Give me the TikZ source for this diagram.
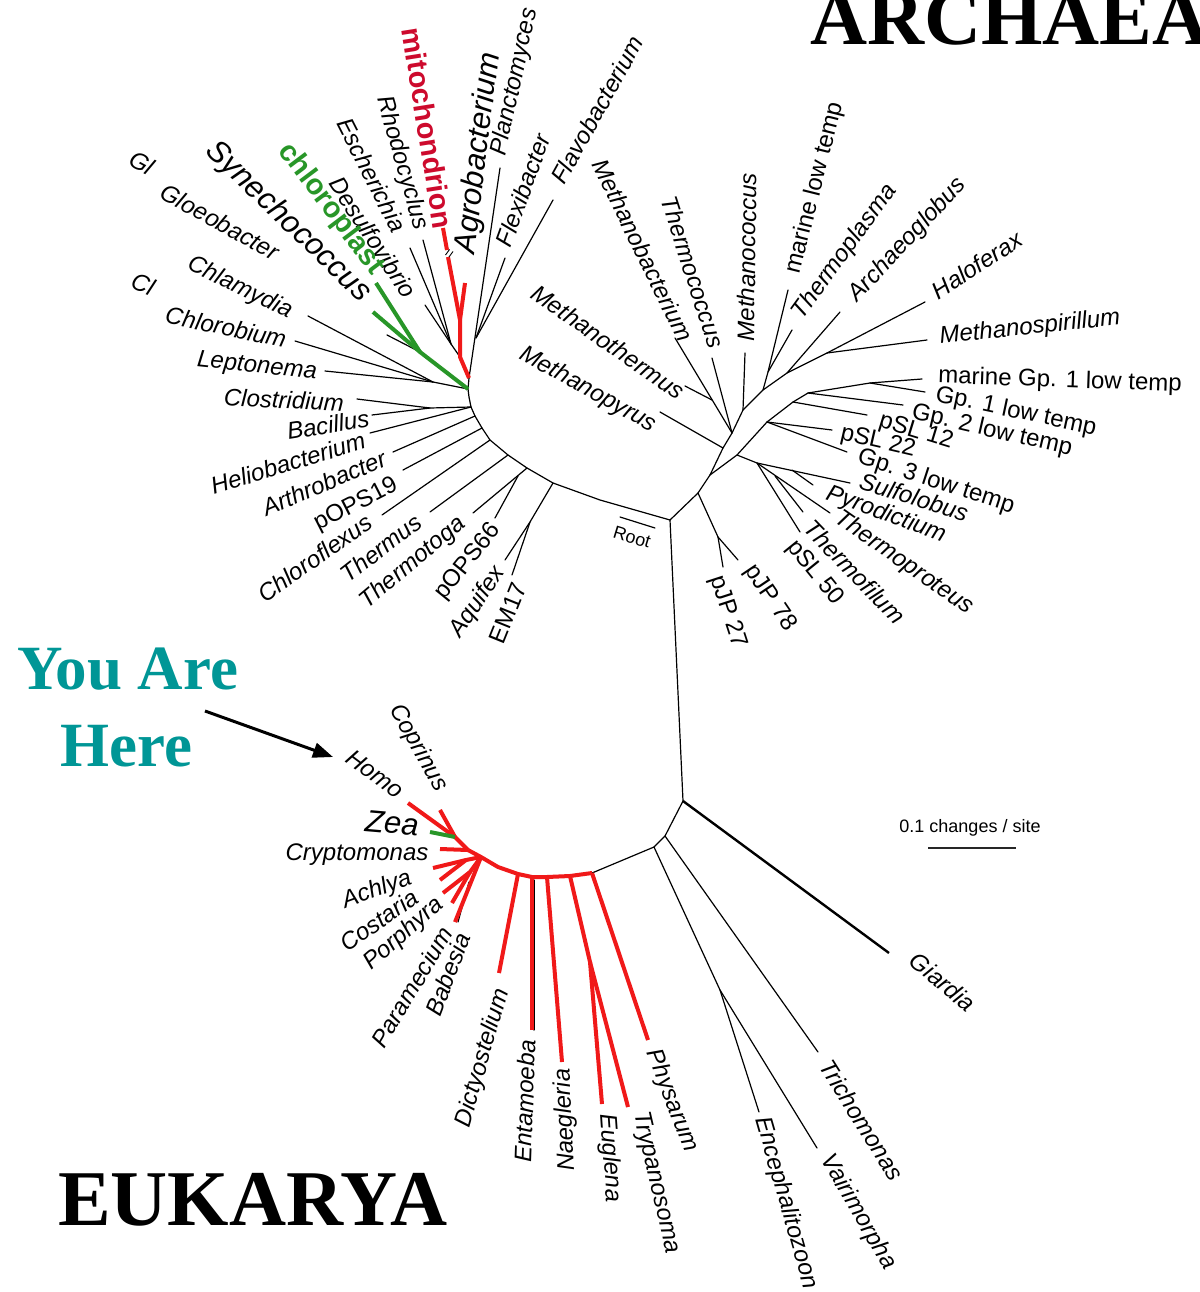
\documentclass[tikz,border=0pt]{standalone}
\usepackage{fontspec}
\newfontfamily\lsans{Liberation Sans}
\newfontfamily\lserif{Liberation Serif}
\usetikzlibrary{arrows.meta}
\definecolor{redl}{RGB}{240,25,25}
\definecolor{mito}{RGB}{205,10,45}
\definecolor{grn}{RGB}{40,150,40}
\definecolor{tealc}{RGB}{0,150,150}
\tikzset{
 br/.style={line width=1.2pt, line cap=round, line join=round},
 rbr/.style={line width=4pt, redl, line join=round},
 gbr/.style={line width=4pt, grn, line join=round},
 lab/.style={font=\lsans\itshape\fontsize{24}{24}\selectfont, inner sep=0pt},
 labu/.style={font=\lsans\fontsize{24}{24}\selectfont, inner sep=0pt},
 labbig/.style={font=\lsans\itshape\fontsize{31}{31}\selectfont, inner sep=0pt},
 labbold/.style={font=\lsans\bfseries\fontsize{29}{29}\selectfont, inner sep=0pt},
 title/.style={font=\lserif\bfseries\fontsize{79}{79}\selectfont, inner sep=0pt, anchor=base west},
 here/.style={font=\lserif\bfseries\fontsize{63}{63}\selectfont, inner sep=0pt, anchor=base west, text=tealc},
}
\begin{document}
\begin{tikzpicture}[x=1pt,y=-1pt]
\useasboundingbox (0,0) rectangle (1199,1292);
\fill[white] (0,0) rectangle (1199,1292);
% ---------- core coordinates
\coordinate (R) at (670,520);
\coordinate (EU) at (683,801);
% bacteria arc
\coordinate (BA0) at (600,500);
\coordinate (B1) at (553,483);
\coordinate (B2) at (527,468);
\coordinate (B3) at (508,455);
\coordinate (B4) at (490,440);
\coordinate (B5) at (482,428);
\coordinate (B6) at (475,416);
\coordinate (B7) at (471,407);
\coordinate (B8) at (469,397);
\coordinate (B9) at (468,389);
\coordinate (B10) at (469,378);
% bacteria tips/nodes
\coordinate (nEA) at (530,522);
\coordinate (tEM) at (512,575);
\coordinate (tAq) at (505,560);
\coordinate (nB2a) at (518,476);
\coordinate (tTg) at (473,513);
\coordinate (tP66) at (495,518);
\coordinate (tTh) at (430,512);
\coordinate (tCf) at (382,515);
\coordinate (tP19) at (403,470);
\coordinate (tAr) at (393,452);
\coordinate (tHe) at (370,433);
\coordinate (nBB) at (430,408);
\coordinate (tCl) at (357,399);
\coordinate (tBa) at (372,415);
\coordinate (nBC) at (433,382);
\coordinate (tCh) at (308,316);
\coordinate (tCb) at (295,341);
\coordinate (tLe) at (325,371);
\coordinate (G1) at (420,352);
\coordinate (tSy) at (373,312);
\coordinate (tCp) at (376,283);
\coordinate (tGl) at (387,335);
\coordinate (M1) at (460,357);
\coordinate (M2) at (460,320);
\coordinate (tAg) at (465,283);
\coordinate (mB1) at (448,257);
\coordinate (mB2) at (447,250);
\coordinate (tMi) at (443,228);
\coordinate (nED) at (451,344);
\coordinate (tEs) at (410,248);
\coordinate (tRh) at (423,240);
\coordinate (tDe) at (425,305);
\coordinate (tPl) at (500,168);
\coordinate (nBF) at (476,338);
\coordinate (tFx) at (505,258);
\coordinate (tFl) at (553,200);
% archaea
\coordinate (A0) at (698,493);
\coordinate (PJ) at (718,537);
\coordinate (tJ78) at (738,560);
\coordinate (tJ27) at (723,567);
\coordinate (A1) at (710,475);
\coordinate (U1) at (723,448);
\coordinate (tMp) at (660,412);
\coordinate (U2) at (732,433);
\coordinate (tMb) at (675,338);
\coordinate (MT) at (712,400);
\coordinate (tMth) at (685,386);
\coordinate (tTc) at (712,358);
\coordinate (U3) at (743,410);
\coordinate (tMc) at (745,353);
\coordinate (U4) at (763,390);
\coordinate (TM) at (768,372);
\coordinate (tMl) at (788,290);
\coordinate (tTp) at (792,330);
\coordinate (U5) at (787,373);
\coordinate (tAr2) at (840,312);
\coordinate (U6) at (827,353);
\coordinate (tMs) at (927,340);
\coordinate (tHa) at (925,302);
\coordinate (L1) at (737,455);
\coordinate (Cr2) at (757,463);
\coordinate (SP) at (792,470);
\coordinate (tSu) at (850,483);
\coordinate (tPy) at (813,485);
\coordinate (TF) at (775,476);
\coordinate (tTpr) at (830,513);
\coordinate (tTf) at (803,512);
\coordinate (tS50) at (800,532);
\coordinate (L2) at (767,422);
\coordinate (tS22) at (832,430);
\coordinate (tG3) at (847,452);
\coordinate (L3) at (793,402);
\coordinate (tS12) at (867,415);
\coordinate (L4) at (808,393);
\coordinate (tG2) at (903,405);
\coordinate (L5) at (870,383);
\coordinate (tMG1) at (922,379);
\coordinate (tG1) at (925,392);
% eukarya
\coordinate (tGi) at (889,953);
\coordinate (E1) at (665,836);
\coordinate (tTr) at (818,1052);
\coordinate (E2) at (654,847);
\coordinate (EV) at (720,990);
\coordinate (tEn) at (759,1112);
\coordinate (tVa) at (817,1148);
\coordinate (E3) at (592,873);
\coordinate (tPh) at (648,1040);
\coordinate (E4) at (570,876);
\coordinate (EG) at (590,962);
\coordinate (tEu) at (602,1104);
\coordinate (tTy) at (628,1107);
\coordinate (E5) at (547,877);
\coordinate (tNa) at (562,1062);
\coordinate (E6) at (532,877);
\coordinate (tEt) at (532,1030);
\coordinate (E7) at (518,874);
\coordinate (tDi) at (499,973);
\coordinate (E7b) at (498,867);
\coordinate (E8) at (481,857);
\coordinate (EA) at (466,860);
\coordinate (tAc) at (433,868);
\coordinate (tCo) at (440,880);
\coordinate (EP) at (470,872);
\coordinate (tPo) at (443,893);
\coordinate (tPa) at (452,903);
\coordinate (tBb) at (455,922);
\coordinate (E9) at (468,850);
\coordinate (EH) at (455,837);
\coordinate (tHo) at (408,803);
\coordinate (tCop) at (440,810);
\coordinate (tZe) at (430,832);
\coordinate (tCr) at (440,849);
% ---------- branches: stem and bacteria
\draw[br] (R) -- (EU);
\draw[br] (R) -- (BA0) -- (B1) -- (B2) -- (B3) -- (B4) -- (B5) -- (B6) -- (B7) -- (B8) -- (B9) -- (B10);
\draw[br] (B1) -- (nEA) -- (tAq);
\draw[br] (nEA) -- (tEM);
\draw[br] (B2) -- (tTg);
\draw[br] (nB2a) -- (tP66);
\draw[br] (B3) -- (tTh);
\draw[br] (B4) -- (tCf);
\draw[br] (B5) -- (tP19);
\draw[br] (B6) -- (tAr);
\draw[br] (B7) -- (tHe);
\draw[br] (B7) -- (nBB) -- (tCl);
\draw[br] (nBB) -- (tBa);
\draw[br] (B9) -- (nBC) -- (tCh);
\draw[br] (nBC) -- (tCb);
\draw[br] (nBC) -- (tLe);
\draw[br] (tGl) -- (G1);
\draw[br] (B10) -- (tPl);
\draw[br] (nBF) -- (tFx);
\draw[br] (nBF) -- (tFl);
\draw[br] (M1) -- (nED) -- (tEs);
\draw[br] (nED) -- (tRh);
\draw[br] (nED) -- (tDe);
\draw[gbr] (B9) -- (G1) -- (tSy);
\draw[gbr] (G1) -- (tCp);
\draw[rbr] (B10) -- (M1) -- (M2) -- (mB1);
\draw[rbr] (mB2) -- (tMi);
\draw[rbr] (M2) -- (tAg);
\draw[line width=0.9pt] (445.5,255) -- (449.5,249.5) (449,257) -- (453,251.5);
% root marker
\coordinate (rm1) at (620,517);
\coordinate (rm2) at (655,528);
\draw[br] (rm1) -- (rm2);
% ---------- archaea
\draw[br] (R) -- (A0) -- (A1);
\draw[br] (A0) -- (PJ) -- (tJ78);
\draw[br] (PJ) -- (tJ27);
\draw[br] (A1) -- (U1) -- (U2) -- (U3) -- (U4) -- (U5) -- (U6) -- (tHa);
\draw[br] (U1) -- (tMp);
\draw[br] (U2) -- (tMb);
\draw[br] (MT) -- (tMth);
\draw[br] (U2) -- (tTc);
\draw[br] (U3) -- (tMc);
\draw[br] (U4) -- (TM) -- (tMl);
\draw[br] (TM) -- (tTp);
\draw[br] (U5) -- (tAr2);
\draw[br] (U6) -- (tMs);
\draw[br] (A1) -- (L1) -- (L2) -- (L3) -- (L4) -- (L5) -- (tMG1);
\draw[br] (L5) -- (tG1);
\draw[br] (L4) -- (tG2);
\draw[br] (L3) -- (tS12);
\draw[br] (L2) -- (tS22);
\draw[br] (L2) -- (tG3);
\draw[br] (L1) -- (Cr2) -- (tSu);
\draw[br] (SP) -- (tPy);
\draw[br] (Cr2) -- (tTpr);
\draw[br] (TF) -- (tTf);
\draw[br] (Cr2) -- (tS50);
% ---------- eukarya
\draw[line width=2.4pt] (EU) -- (tGi);
\draw[br] (EU) -- (E1) -- (E2) -- (E3);
\draw[br] (E1) -- (tTr);
\draw[br] (E2) -- (EV) -- (tEn);
\draw[br] (EV) -- (tVa);
\draw[br] (534,880) -- (534,1030);
\draw[br] (458,922) -- (469,882);
\draw[rbr] (E3) -- (E4) -- (E5) -- (E6) -- (E7) -- (E7b) -- (E8) -- (E9);
\draw[rbr] (E3) -- (tPh);
\draw[rbr] (E4) -- (EG) -- (tTy);
\draw[rbr] (EG) -- (tEu);
\draw[rbr] (E5) -- (tNa);
\draw[rbr] (E6) -- (tEt);
\draw[rbr] (E7) -- (tDi);
\draw[rbr] (E8) -- (EA) -- (tAc);
\draw[rbr] (EA) -- (tCo);
\draw[rbr] (E8) -- (EP) -- (tPo);
\draw[rbr] (EP) -- (tPa);
\draw[rbr] (E8) -- (tBb);
\draw[rbr] (E9) -- (EH) -- (tHo);
\draw[rbr] (EH) -- (tCop);
\draw[rbr] (E9) -- (tCr);
\draw[gbr] (tZe) -- (EH);
% ---------- bacteria labels
\node[lab, rotate=78] (Lpl) at (515,82) {Planctomyces};
\node[lab, rotate=70] (Lfx) at (523,190) {Flexibacter};
\node[lab, rotate=61] (Lfl) at (597,110) {Flavobacterium};
\node[labbig, rotate=83] (Lag) at (479,153) {Agrobacterium};
\node[labbold, rotate=-81, text=mito] (Lmi) at (428,128) {mitochondrion};
\node[lab, rotate=-74] (Lrh) at (402,163) {Rhodocyclus};
\node[lab, rotate=-63] (Les) at (372,175) {Escherichia};
\node[lab, rotate=-57] (Lde) at (373,237) {Desulfovibrio};
\node[labbold, rotate=-53, text=grn] (Lcp) at (331,209) {chloroplast};
\node[labbig, rotate=-44] (Lsy) at (288,222) {Synechococcus};
\node[lab, rotate=-29] (Lgl) at (220,222) {Gloeobacter};
\node[lab, rotate=-29] (Lgl2) at (142,163) {Gl};
\node[lab, rotate=-26] (Lch) at (240,288) {Chlamydia};
\node[lab, rotate=-22] (Lch2) at (143,284) {Cl};
\node[lab, rotate=-12] (Lcb) at (226,327) {Chlorobium};
\node[lab, rotate=-6] (Lle) at (257,367) {Leptonema};
\node[lab, rotate=-3] (Lcl) at (284,400) {Clostridium};
\node[lab, rotate=9] (Lba) at (328,425) {Bacillus};
\node[lab, rotate=17] (Lhe) at (288,463) {Heliobacterium};
\node[lab, rotate=23] (Lar) at (324,483) {Arthrobacter};
\node[labu, rotate=27] (Lp19) at (356,505) {pOPS19};
\node[lab, rotate=35] (Lcf) at (315,558) {Chloroflexus};
\node[lab, rotate=38] (Lth) at (381,548) {Thermus};
\node[lab, rotate=40] (Ltg) at (413,563) {Thermotoga};
\node[labu, rotate=51] (Lp66) at (468,562) {pOPS66};
\node[lab, rotate=56] (Laq) at (478,602) {Aquifex};
\node[labu, rotate=68] (Lem) at (508,613) {EM17};
% ---------- archaea labels
\node[lab, rotate=-35] (Lmth) at (608,342) {Methanothermus};
\node[lab, rotate=-29] (Lmp) at (588,390) {Methanopyrus};
\node[lab, rotate=-64] (Lmb) at (643,250) {Methanobacterium};
\node[lab, rotate=-72] (Ltc) at (693,272) {Thermococcus};
\node[lab, rotate=89] (Lmc) at (747,257) {Methanococcus};
\node[labu, rotate=76] (Lml) at (815,188) {marine low temp};
\node[lab, rotate=54] (Ltp) at (845,252) {Thermoplasma};
\node[lab, rotate=47] (Lao) at (908,240) {Archaeoglobus};
\node[lab, rotate=33] (Lha) at (977,265) {Haloferax};
\node[lab, rotate=6] (Lms) at (1030,328) {Methanospirillum};
\node[labu, rotate=-2] (Lmg1) at (1060,381) {marine Gp. 1 low temp};
\node[labu, rotate=-12] (Lg1) at (1016,412) {Gp. 1 low temp};
\node[labu, rotate=-13] (Lg2) at (992,431) {Gp. 2 low temp};
\node[labu, rotate=-17] (Ls12) at (916,432) {pSL 12};
\node[labu, rotate=-13] (Ls22) at (878,442) {pSL 22};
\node[labu, rotate=-18] (Lg3) at (936,482) {Gp. 3 low temp};
\node[lab, rotate=-17] (Lsu) at (914,497) {Sulfolobus};
\node[lab, rotate=-20] (Lpy) at (886,515) {Pyrodictium};
\node[lab, rotate=-35] (Ltpr) at (904,563) {Thermoproteus};
\node[lab, rotate=-46] (Ltf) at (855,572) {Thermofilum};
\node[labu, rotate=-51] (Ls50) at (815,573) {pSL 50};
\node[labu, rotate=-56] (Lj78) at (770,598) {pJP 78};
\node[labu, rotate=-72] (Lj27) at (728,612) {pJP 27};
\node[font=\lsans\fontsize{18}{18}\selectfont, inner sep=0pt, rotate=-17] (Lroot) at (632,537) {Root};
% ---------- eukarya labels
\node[lab, rotate=-37] (Lho) at (375,774) {Homo};
\node[lab, rotate=-61] (Lcop) at (418,748) {Coprinus};
\node[labbig, rotate=-5] (Lze) at (392,823) {Zea};
\node[lab, rotate=0] (Lcr) at (357,855) {Cryptomonas};
\node[lab, rotate=20] (Lac) at (377,890) {Achlya};
\node[lab, rotate=35] (Lco) at (379,920) {Costaria};
\node[lab, rotate=41] (Lpo) at (404,934) {Porphyra};
\node[lab, rotate=59] (Lpa) at (412,987) {Paramecium};
\node[lab, rotate=69] (Lbb) at (448,974) {Babesia};
\node[lab, rotate=74] (Ldi) at (483,1058) {Dictyostelium};
\node[lab, rotate=88] (Let) at (525,1101) {Entamoeba};
\node[lab, rotate=93] (Lna) at (566,1120) {Naegleria};
\node[lab, rotate=-86] (Leu) at (610,1158) {Euglena};
\node[lab, rotate=-77] (Lty) at (656,1183) {Trypanosoma};
\node[lab, rotate=-69] (Lph) at (672,1101) {Physarum};
\node[lab, rotate=-74] (Len) at (786,1203) {Encephalitozoon};
\node[lab, rotate=-60] (Lva) at (858,1212) {Vairimorpha};
\node[lab, rotate=-58] (Ltr) at (862,1120) {Trichomonas};
\node[lab, rotate=-40] (Lgi) at (943,982) {Giardia};
% ---------- scale bar
\node[font=\lsans\fontsize{18}{18}\selectfont, inner sep=0pt] (Lsc) at (970,828) {0.1 changes / site};
\coordinate (sb1) at (928,848);
\coordinate (sb2) at (1016,848);
\draw[line width=2pt, black!85] (sb1) -- (sb2);
% ---------- titles
\node[title] (Tar) at (810,45) {ARCHAEA};
\node[title] (Teu) at (58,1225) {EUKARYA};
\node[here] (Ty1) at (17,689) {You Are};
\node[here] (Ty2) at (60,766) {Here};
\coordinate (arS) at (205,711);
\coordinate (arE) at (333,757);
\draw[line width=3pt, -{Triangle[length=20pt,width=15pt]}] (arS) -- (arE);
\end{tikzpicture}
\end{document}
